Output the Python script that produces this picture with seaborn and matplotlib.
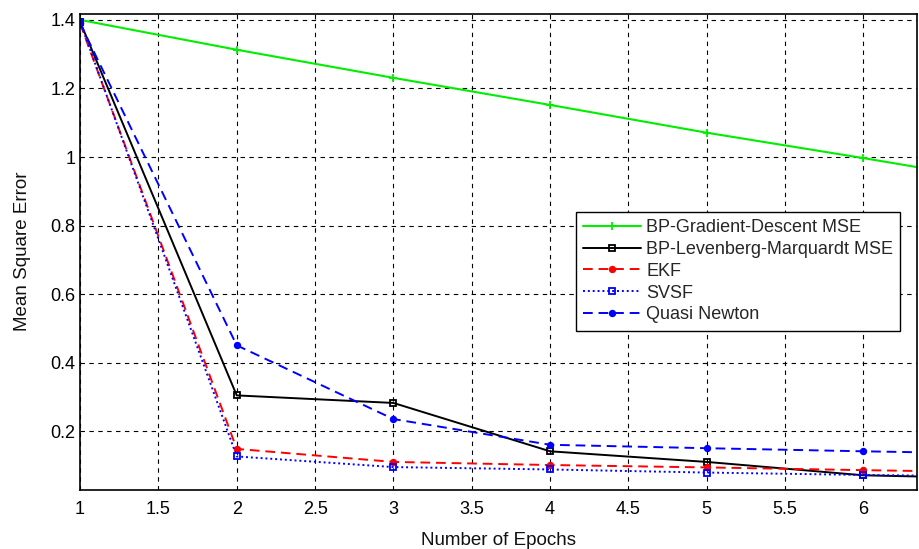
import numpy as np
import pandas as pd
import matplotlib
matplotlib.use("Agg")
import matplotlib.pyplot as plt
import seaborn as sns

# Values (x=7 only extends the lines to the clipped edge)
epochs = [1, 2, 3, 4, 5, 6, 7]
gd_mse = [1.40, 1.313, 1.231, 1.152, 1.071, 0.997, 0.92]
lm_mse = [1.395, 0.305, 0.283, 0.142, 0.111, 0.072, 0.062]
ekf = [1.39, 0.149, 0.111, 0.102, 0.095, 0.087, 0.08]
svsf = [1.395, 0.127, 0.096, 0.089, 0.080, 0.073, 0.068]
quasi = [1.39, 0.451, 0.236, 0.161, 0.151, 0.142, 0.134]

series_names = ["BP-Gradient-Descent MSE", "BP-Levenberg-Marquardt MSE", "EKF", "SVSF", "Quasi Newton"]
series_values = [gd_mse, lm_mse, ekf, svsf, quasi]

x_ticks = [1, 1.5, 2, 2.5, 3, 3.5, 4, 4.5, 5, 5.5, 6]
y_ticks = [0.2, 0.4, 0.6, 0.8, 1.0, 1.2, 1.4]
y_tick_labels = ["0.2", "0.4", "0.6", "0.8", "1", "1.2", "1.4"]

rows = []
for name, vals in zip(series_names, series_values):
    for e, v in zip(epochs, vals):
        rows.append({"series": name, "epoch": e, "mse": v})
df = pd.DataFrame(rows)

sns.set_theme(style="white")
plt.rcParams["font.family"] = ["Liberation Sans", "DejaVu Sans"]

# line styling per series
styles = {
    "BP-Gradient-Descent MSE": dict(color="#00ee00", linestyle="-", marker="+", markersize=6, mfc="#00ee00", lw=1.5),
    "BP-Levenberg-Marquardt MSE": dict(color="black", linestyle="-", marker="s", markersize=4, mfc="none", lw=1.4),
    "EKF": dict(color="red", linestyle=(0, (5, 3)), marker="o", markersize=4, mfc="red", lw=1.4),
    "SVSF": dict(color="blue", linestyle=(0, (1, 1.5)), marker="s", markersize=4, mfc="none", lw=1.4),
    "Quasi Newton": dict(color="blue", linestyle=(0, (5, 3)), marker="o", markersize=4, mfc="blue", lw=1.4),
}

fig, ax = plt.subplots(figsize=(9.2, 5.49), dpi=100)
fig.subplots_adjust(left=0.087, right=0.997, top=0.975, bottom=0.108)

for name in series_names:
    st = styles[name]
    sns.lineplot(
        data=df[df["series"] == name],
        x="epoch",
        y="mse",
        ax=ax,
        label=name,
        color=st["color"],
        linestyle=st["linestyle"],
        marker=st["marker"],
        markersize=st["markersize"],
        markerfacecolor=st["mfc"],
        markeredgecolor=st["color"],
        markeredgewidth=1.3,
        linewidth=st["lw"],
    )

ax.set_xlim(1, 6.343)
ax.set_ylim(0.03, 1.418)
ax.set_xticks(x_ticks)
ax.set_xticklabels([f"{t:g}" for t in x_ticks])
ax.set_yticks(y_ticks)
ax.set_yticklabels(y_tick_labels)
ax.tick_params(direction="in", length=5, labelsize=13, colors="black")
ax.tick_params(axis="x", pad=8)
ax.grid(True, color="black", linestyle=(0, (4, 4)), linewidth=0.8)
for sp in ax.spines.values():
    sp.set_color("black")
    sp.set_linewidth(1.2)

ax.set_xlabel("Number of Epochs", fontsize=13.5, color="#111111", labelpad=10)
ax.set_ylabel("Mean Square Error", fontsize=13.5, color="#111111", labelpad=14)

leg = ax.legend(
    loc="upper left",
    bbox_to_anchor=(0.592, 0.584),
    fontsize=13,
    frameon=True,
    fancybox=False,
    edgecolor="black",
    handlelength=3.2,
    borderpad=0.4,
    labelspacing=0.27,
    handletextpad=0.3,
    borderaxespad=0,
)
leg.get_frame().set_linewidth(1.0)
leg.get_frame().set_alpha(1.0)

fig.savefig("out.png", dpi=100)
